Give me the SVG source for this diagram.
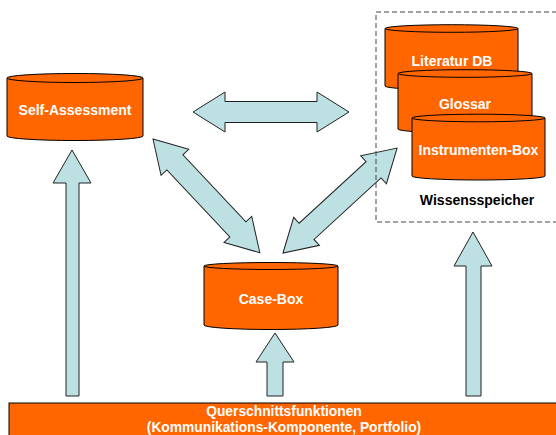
<svg xmlns="http://www.w3.org/2000/svg" width="556" height="435" viewBox="0 0 556 435">
<style>
.cyl{fill:#FF6600;stroke:#000;stroke-width:1}
.edge{fill:none;stroke:#000;stroke-width:1}
.arr{fill:#BDE0E3;stroke:#222;stroke-width:1;stroke-linejoin:miter}
.lbl{font-family:"Liberation Sans",Arial,sans-serif;font-weight:bold;font-size:14px;fill:#fff;text-anchor:middle}
.blk{font-family:"Liberation Sans",Arial,sans-serif;font-weight:bold;font-size:14px;fill:#000;text-anchor:middle}
.bar{font-family:"Liberation Sans",Arial,sans-serif;font-weight:bold;font-size:13.8px;fill:#fff;text-anchor:middle}
</style>
<rect width="556" height="435" fill="#fff"/>
<g id="connectors">
<polygon class="arr" points="193,112 225,92 225,101.5 317,101.5 317,92 349,112 317,132 317,122.5 225,122.5 225,132"/>
<polygon class="arr" transform="translate(153,139) rotate(46.8)" points="0,0 32,-19 32,-11 124,-11 124,-19 156,0 124,19 124,11 32,11 32,19"/>
<polygon class="arr" transform="translate(283,253) rotate(-42.6)" points="0,0 32,-19 32,-11 123,-11 123,-19 155,0 123,19 123,11 32,11 32,19"/>
<polygon class="arr" points="72,150 53,183 66,183 66,396 79,396 79,183 91,183"/>
<polygon class="arr" points="275,333 256,362 267,362 267,396 283,396 283,362 294,362"/>
<polygon class="arr" points="473,232 454,266 466,266 466,396 481,396 481,266 492,266"/>
</g>
<g id="self-assessment">
<path class="cyl" d="M7,78 A68,4.5 0 0 1 143,78 L143,136 A68,4.5 0 0 1 7,136 Z"/>
<path class="edge" d="M7,78 A68,4.5 0 0 0 143,78"/>
<text class="lbl" x="75" y="115">Self-Assessment</text>
</g>
<g id="wissensspeicher">
<rect x="376" y="12" width="190" height="210" fill="none" stroke="#444" stroke-width="1" stroke-dasharray="5,3"/>
<text class="blk" x="477" y="205">Wissensspeicher</text>
</g>
<g id="literatur-db">
<path class="cyl" d="M385,28.5 A66.5,3.8 0 0 1 518,28.5 L518,86 A66.5,4 0 0 1 385,86 Z"/>
<path class="edge" d="M385,28.5 A66.5,3.8 0 0 0 518,28.5"/>
<text class="lbl" x="452" y="66">Literatur DB</text>
</g>
<g id="glossar">
<path class="cyl" d="M398,73.5 A67,3.8 0 0 1 532,73.5 L532,129 A67,4 0 0 1 398,129 Z"/>
<path class="edge" d="M398,73.5 A67,3.8 0 0 0 532,73.5"/>
<text class="lbl" x="465" y="109">Glossar</text>
</g>
<g id="instrumenten-box">
<path class="cyl" d="M412,118 A66.5,3.8 0 0 1 545,118 L545,176 A66.5,4 0 0 1 412,176 Z"/>
<path class="edge" d="M412,118 A66.5,3.8 0 0 0 545,118"/>
<text class="lbl" x="478.5" y="155">Instrumenten-Box</text>
</g>
<g id="case-box">
<path class="cyl" d="M204,266 A67,3.5 0 0 1 338,266 L338,325 A67,4.5 0 0 1 204,325 Z"/>
<path class="edge" d="M204,266 A67,3.5 0 0 0 338,266"/>
<text class="lbl" x="271" y="304">Case-Box</text>
</g>
<g id="querschnittsfunktionen">
<rect x="9" y="403" width="560" height="40" fill="#FF6600" stroke="#000" stroke-width="1"/>
<text class="bar" x="284" y="416">Querschnittsfunktionen</text>
<text class="bar" x="284" y="431.5">(Kommunikations-Komponente, Portfolio)</text>
</g>
</svg>
